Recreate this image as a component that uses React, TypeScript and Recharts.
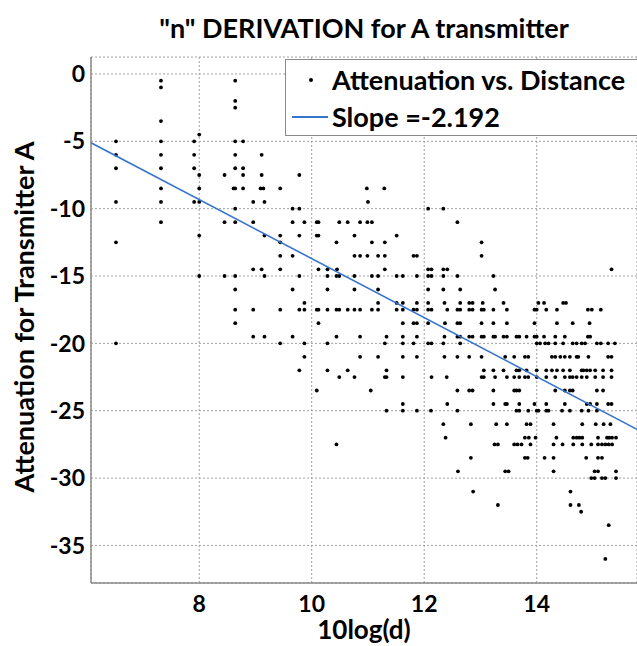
import { CartesianGrid, Legend, Scatter, ScatterChart, XAxis, YAxis } from 'recharts'

const FONT = 'Lato, "Open Sans", sans-serif'
const BLUE = '#3874cb'
const AXIS = '#8a8a8a'

const xTicks = [8, 10, 12, 14]
const yTicks = [-35, -30, -25, -20, -15, -10, -5, 0]
const xDomain = [6.076, 15.783]
const yDomain = [-37.79, 1.26]

// attenuation level -> 10log(d) values measured at that level
const measurements: [number, number[]][] = [
  [-0.5, [7.32, 8.64]],
  [-1, [7.32]],
  [-2, [8.64]],
  [-2.5, [8.64]],
  [-3.5, [7.32]],
  [-4.5, [8.0]],
  [-5, [6.52, 7.32, 7.91, 8.64, 8.78]],
  [-6, [6.52, 7.32, 7.91, 8.64, 9.11]],
  [-7, [6.52, 7.32, 7.91, 8.64, 8.78]],
  [-7.5, [8.0, 8.45, 8.78, 9.11, 9.78]],
  [-8.5, [7.32, 8.0, 8.61, 8.64, 8.78, 9.09, 9.14, 9.44, 10.98, 11.29]],
  [-9.5, [6.52, 7.32, 7.91, 8.0, 8.96, 9.16, 11.0]],
  [-10, [8.64, 9.66, 9.78, 12.07, 12.34]],
  [-11, [7.32, 8.45, 8.64, 8.96, 9.66, 9.87, 10.09, 10.12, 10.49, 10.64, 10.86, 10.99, 11.07, 12.59]],
  [-12, [8.0, 9.16, 9.44, 9.78, 10.09, 10.12, 10.76, 11.51]],
  [-12.5, [6.52, 9.44, 10.44, 11.07, 11.3, 13.02]],
  [-13.5, [9.44, 9.66, 10.76, 10.86, 10.99, 11.18, 11.3, 11.81, 11.87, 13.02]],
  [-14.5, [8.96, 9.11, 9.44, 10.12, 10.28, 10.45, 11.3, 12.07, 12.13, 12.34, 12.41, 15.33]],
  [-15, [8.0, 8.45, 8.64, 9.16, 9.78, 10.28, 10.44, 10.49, 10.76, 11.07, 11.18, 11.51, 11.62, 11.87, 12.07, 12.13, 12.34, 12.59, 13.23]],
  [-16, [8.64, 9.66, 10.28, 10.76, 11.18, 12.07, 12.34, 12.64, 13.26]],
  [-17, [9.87, 11.18, 11.51, 11.62, 11.87, 12.07, 12.36, 12.64, 12.8, 12.86, 13.04, 13.41, 14.03, 14.13, 14.47, 14.52]],
  [-17.5, [8.64, 8.96, 9.44, 9.78, 9.87, 10.09, 10.12, 10.28, 10.44, 10.49, 10.64, 10.76, 10.86, 11.07, 11.18, 11.51, 11.62, 11.81, 11.87, 12.07, 12.13, 12.41, 12.59, 12.64, 12.8, 12.86, 13.02, 13.06, 13.23, 13.47, 13.96, 14.0, 14.17, 14.36, 14.91, 14.98, 15.14]],
  [-18.5, [8.64, 10.12, 11.62, 11.81, 11.87, 12.07, 12.37, 12.59, 12.64, 13.02, 13.23, 13.47, 13.96, 14.36, 14.64, 14.94]],
  [-19.5, [8.96, 9.16, 9.66, 10.44, 10.86, 11.33, 11.62, 11.87, 12.36, 12.59, 12.64, 12.8, 12.86, 13.02, 13.06, 13.23, 13.26, 13.41, 13.47, 13.64, 13.69, 13.82, 13.96, 14.0, 14.13, 14.33, 14.5, 14.91, 14.95]],
  [-20, [6.52, 9.44, 9.87, 10.28, 11.3, 11.62, 11.81, 12.07, 12.13, 12.34, 12.64, 14.0, 14.06, 14.15, 14.21, 14.33, 14.47, 14.64, 14.71, 14.8, 14.86, 15.07, 15.14, 15.27, 15.39]],
  [-21, [9.87, 10.86, 11.18, 11.62, 11.87, 12.36, 12.59, 12.8, 13.02, 13.44, 13.6, 13.79, 13.85, 14.27, 14.33, 14.42, 14.5, 14.59, 14.71, 14.74, 14.92, 15.27, 15.33]],
  [-22, [9.78, 10.28, 10.64, 11.33, 13.06, 13.23, 13.41, 13.64, 13.69, 13.82, 14.0, 14.17, 14.27, 14.36, 14.47, 14.59, 14.8, 14.83, 14.89, 14.95, 15.04, 15.18, 15.33]],
  [-22.5, [10.49, 10.76, 11.3, 11.33, 11.62, 12.13, 12.4, 13.02, 13.06, 13.26, 13.47, 13.6, 13.69, 13.79, 13.85, 14.0, 14.17, 14.33, 14.5, 14.59, 14.64, 14.71, 14.8, 14.89, 15.04, 15.18, 15.33]],
  [-23.5, [10.09, 11.05, 12.59, 12.8, 12.86, 13.23, 13.6, 13.64, 13.69, 14.33, 14.5, 14.59, 14.64, 15.07, 15.18]],
  [-24.5, [11.62, 12.41, 13.23, 13.44, 13.47, 13.69, 13.96, 14.17, 14.5, 14.89, 14.95, 15.07, 15.27, 15.33]],
  [-25, [11.33, 11.62, 11.87, 12.12, 12.59, 13.64, 13.69, 13.85, 14.0, 14.03, 14.17, 14.21, 14.45, 14.59, 14.8, 14.92, 15.07]],
  [-26, [12.34, 12.83, 13.28, 13.47, 13.82, 13.89, 14.3, 14.81, 15.05, 15.19, 15.31]],
  [-27, [12.38, 13.79, 13.86, 13.98, 14.35, 14.65, 14.71, 14.76, 14.81, 15.09, 15.25, 15.29, 15.34, 15.41]],
  [-27.5, [10.44, 13.25, 13.31, 13.6, 13.66, 13.73, 13.89, 14.3, 14.46, 14.65, 14.81, 14.97, 15.09, 15.16, 15.22, 15.28, 15.34]],
  [-28.5, [12.83, 13.79, 13.84, 14.14, 14.3, 14.88, 15.09, 15.16]],
  [-29.5, [12.6, 13.44, 13.5, 14.3, 15.03, 15.09, 15.41]],
  [-30, [14.97, 15.03, 15.16, 15.22, 15.41]],
  [-31, [12.87, 14.6]],
  [-32, [13.31, 14.6, 14.75]],
  [-32.5, [14.79]],
  [-33.5, [15.28]],
  [-36, [15.22]],
]

// end points of the fitted line
const fitLine = [
  { x: 6.076, y: -5.11 },
  { x: 15.783, y: -26.38 },
]

const title = '"n" DERIVATION for A transmitter'
const xLabel = '10log(d)'
const yLabel = 'Attenuation for Transmitter A'
const seriesName = 'Attenuation vs. Distance'
const slopeName = 'Slope =-2.192'

const points = measurements.flatMap(([y, xs]) => xs.map((x) => ({ x, y })))

const Dot = (p: any) => <circle cx={p.cx} cy={p.cy} r={1.9} fill='#000' />
const NoDot = () => <g />

const YLabel = (props: any) => {
  const vb = props.viewBox
  const cx = 34
  const cy = vb.y + vb.height / 2 - 3
  return (
    <text
      x={cx}
      y={cy}
      transform={`rotate(-90 ${cx} ${cy})`}
      textAnchor='middle'
      fill='#000'
      fontSize={27}
      fontWeight={700}
      fontFamily={FONT}
    >
      {yLabel}
    </text>
  )
}

const XLabel = (props: any) => {
  const vb = props.viewBox
  return (
    <text
      x={vb.x + vb.width / 2}
      y={vb.y + 56}
      textAnchor='middle'
      fill='#000'
      fontSize={26}
      fontWeight={700}
      fontFamily={FONT}
    >
      {xLabel}
    </text>
  )
}

const LegendBox = () => (
  <div
    style={{
      position: 'relative',
      width: 370,
      height: 77,
      boxSizing: 'border-box',
      border: `1px solid ${AXIS}`,
      background: '#fff',
      fontFamily: FONT,
      fontWeight: 700,
      fontSize: 27,
      color: '#000',
    }}
  >
    <div style={{ position: 'absolute', left: 23, top: 18, width: 4, height: 4, borderRadius: 2, background: '#000' }} />
    <div style={{ position: 'absolute', left: 46, top: 4, lineHeight: '32px', whiteSpace: 'nowrap' }}>{seriesName}</div>
    <div style={{ position: 'absolute', left: 6, top: 56, width: 36, height: 1.5, background: BLUE }} />
    <div style={{ position: 'absolute', left: 46, top: 41, lineHeight: '32px', whiteSpace: 'nowrap' }}>{slopeName}</div>
  </div>
)

export default function App() {
  const tick = { fill: '#000', fontSize: 23, fontWeight: 700, fontFamily: FONT }
  return (
    <div
      style={{
        position: 'fixed',
        left: 0,
        top: 0,
        width: 637,
        height: 646,
        overflow: 'hidden',
        background: '#fff',
      }}
    >
      <div
        style={{
          position: 'absolute',
          left: 91,
          width: 546,
          top: 12,
          textAlign: 'center',
          fontFamily: FONT,
          fontWeight: 700,
          fontSize: 27,
          lineHeight: '32px',
          color: '#000',
          whiteSpace: 'nowrap',
        }}
      >
        {title}
      </div>
      <div style={{ position: 'absolute', left: 0, top: 0 }}>
        <ScatterChart width={637} height={646} margin={{ top: 57, right: 0, bottom: 0, left: 0 }}>
          <CartesianGrid stroke='#a0a0a0' strokeDasharray='2 2' strokeWidth={1} />
          <XAxis
            xAxisId='top'
            orientation='top'
            type='number'
            dataKey='x'
            domain={xDomain}
            ticks={xTicks}
            height={0}
            tick={false}
            tickLine={false}
            axisLine={{ stroke: AXIS, strokeWidth: 1.5 }}
            allowDataOverflow
          />
          <XAxis
            type='number'
            dataKey='x'
            domain={xDomain}
            ticks={xTicks}
            height={63}
            tickSize={0}
            tickMargin={13}
            tick={tick}
            axisLine={{ stroke: AXIS, strokeWidth: 1.5 }}
            allowDataOverflow
            label={<XLabel />}
          />
          <YAxis
            type='number'
            dataKey='y'
            domain={yDomain}
            ticks={yTicks}
            width={91}
            tickSize={0}
            tickMargin={6}
            tick={tick}
            axisLine={{ stroke: AXIS, strokeWidth: 1.5 }}
            allowDataOverflow
            label={<YLabel />}
          />
          <Scatter data={points} shape={Dot} isAnimationActive={false} />
          <Scatter
            data={fitLine}
            line={{ stroke: BLUE, strokeWidth: 1.6 }}
            shape={NoDot}
            isAnimationActive={false}
          />
          <Legend
            layout='horizontal'
            verticalAlign='middle'
            align='center'
            content={<LegendBox />}
            wrapperStyle={{ left: 285, top: 59, width: 370, height: 77 }}
          />
        </ScatterChart>
      </div>
    </div>
  )
}
